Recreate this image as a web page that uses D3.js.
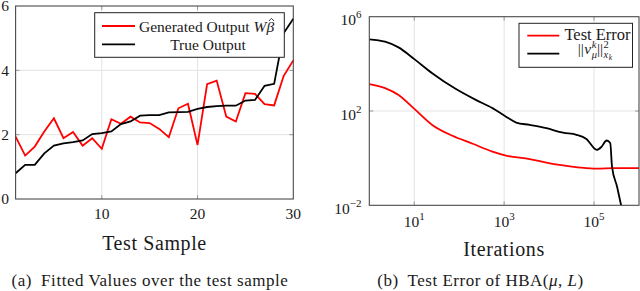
<!DOCTYPE html>
<html><head><meta charset="utf-8">
<script src="https://cdn.jsdelivr.net/npm/d3@7"></script>
<style>
body{margin:0;background:#fff}
svg{display:block}
text{font-family:"Liberation Serif","Times New Roman",serif;fill:#1a1a1a}
</style>
</head><body>
<svg id="c" width="640" height="291"></svg>
<script>
// ---------- data (left panel) ----------
const sampleIdx = [1,2,3,4,5,6,7,8,9,10,11,12,13,14,15,16,17,18,19,20,21,22,23,24,25,26,27,28,29,30];
const generatedOutput = [1.94,1.35,1.63,2.10,2.51,1.89,2.08,1.66,1.89,1.56,2.48,2.34,2.56,2.38,2.36,2.18,1.92,2.82,2.96,1.68,3.57,3.68,2.56,2.41,3.29,3.27,2.95,2.91,3.83,4.31];
const trueOutput = [0.80,1.06,1.06,1.42,1.66,1.73,1.77,1.82,2.02,2.05,2.10,2.33,2.41,2.59,2.61,2.61,2.69,2.70,2.71,2.80,2.86,2.89,2.90,2.90,3.06,3.08,3.52,3.58,5.16,5.60];
const leftXTicks = [10,20,30];
const leftYTicks = [0,2,4,6];
const leftGridX = [10,20];
const leftGridY = [2,4];

// ---------- data (right panel) ----------
const errIter = [1,2.24,4.47,10.2,25.1,70.8,200,550,1100,3700,8700,20400,49000,115000,275000,1000000];
const testError = [1380,933,479,120,25.7,8.9,4.07,1.9,1.29,0.91,0.65,0.49,0.40,0.36,0.38,0.38];
const normIter = [1,2.24,4.47,10.2,25.1,83,234,550,1100,1860,3700,8700,20400,40700,67600,115000,148000,190000,229000,251000,324000,398000,500000];
const normValue = [110000,87000,50000,15500,4000,870,295,132,57.5,32.4,25.7,18.6,12.0,9.8,6.5,2.24,3.1,5.6,4.4,0.44,0.063,0.0105,0.0016];
const rightXTicks = [10,1000,100000];
const rightXExp = ["1","3","5"];
const rightYTicks = [1e-2,1e2,1e6];
const rightYExp = ["\u22122","2","6"];

const svg = d3.select("#c");
const FRAME = "#4a4a4a", GRID = "#e3e3e3", TICK = "#9a9a9a";

// ================= LEFT PANEL =================
const xL = d3.scaleLinear().domain([1,30]).range([15.6,293.3]);
const yL = d3.scaleLinear().domain([0,6]).range([199,6]);
const gL = svg.append("g");
gL.selectAll(".gx").data(leftGridX).join("line")
  .attr("x1",d=>xL(d)).attr("x2",d=>xL(d)).attr("y1",yL(0)).attr("y2",yL(6))
  .attr("stroke",GRID).attr("stroke-width",1);
gL.selectAll(".gy").data(leftGridY).join("line")
  .attr("x1",xL(1)).attr("x2",xL(30)).attr("y1",d=>yL(d)).attr("y2",d=>yL(d))
  .attr("stroke",GRID).attr("stroke-width",1);
leftGridX.forEach(d=>{
  gL.append("line").attr("x1",xL(d)).attr("x2",xL(d)).attr("y1",yL(0)).attr("y2",yL(0)-4).attr("stroke",TICK);
  gL.append("line").attr("x1",xL(d)).attr("x2",xL(d)).attr("y1",yL(6)).attr("y2",yL(6)+4).attr("stroke",TICK);
});
leftGridY.forEach(d=>{
  gL.append("line").attr("x1",xL(1)).attr("x2",xL(1)+4).attr("y1",yL(d)).attr("y2",yL(d)).attr("stroke",TICK);
  gL.append("line").attr("x1",xL(30)).attr("x2",xL(30)-4).attr("y1",yL(d)).attr("y2",yL(d)).attr("stroke",TICK);
});
const lineL = d3.line().x((d,i)=>xL(sampleIdx[i])).y(d=>yL(d));
gL.append("path").datum(generatedOutput).attr("d",lineL).attr("fill","none")
  .attr("stroke","#ff0000").attr("stroke-width",1.8);
gL.append("path").datum(trueOutput).attr("d",lineL).attr("fill","none")
  .attr("stroke","#000").attr("stroke-width",1.8);
gL.append("rect").attr("x",xL(1)).attr("y",yL(6)).attr("width",xL(30)-xL(1)).attr("height",yL(0)-yL(6))
  .attr("fill","none").attr("stroke",FRAME).attr("stroke-width",1.1);
gL.selectAll(".xl").data(leftXTicks).join("text")
  .attr("x",d=>xL(d)).attr("y",219).attr("text-anchor","middle").attr("font-size",15.5).text(d=>d);
gL.selectAll(".yl").data(leftYTicks).join("text")
  .attr("x",9).attr("y",d=>yL(d)+5.3).attr("text-anchor","end").attr("font-size",15.5).text(d=>d);
gL.append("text").attr("x",154.5).attr("y",250).attr("text-anchor","middle").attr("font-size",20)
  .attr("letter-spacing",0.6).text("Test Sample");
// legend
const lgL = gL.append("g");
lgL.append("rect").attr("x",94.7).attr("y",12.7).attr("width",189.6).attr("height",44.6)
  .attr("fill","#fff").attr("stroke","#222").attr("stroke-width",1);
lgL.append("line").attr("x1",102).attr("x2",135).attr("y1",26).attr("y2",26).attr("stroke","#ff0000").attr("stroke-width",1.8);
lgL.append("line").attr("x1",102).attr("x2",135).attr("y1",44.3).attr("y2",44.3).attr("stroke","#000").attr("stroke-width",1.8);
const t1 = lgL.append("text").attr("x",139).attr("y",31.5).attr("font-size",15.5);
t1.append("tspan").text("Generated Output ");
t1.append("tspan").attr("font-style","italic").text("W");
const betaT = t1.append("tspan").attr("font-style","italic").text("\u03b2");
lgL.append("text").attr("x",208).attr("y",49.5).attr("text-anchor","middle").attr("font-size",15.5).text("True Output");
{
  const len = t1.node().getComputedTextLength();
  const bl = betaT.node().getComputedTextLength();
  const cx = 139 + len - bl/2 + 1.2;
  lgL.append("path").attr("d",`M${cx-2.6},21 L${cx},18.4 L${cx+2.6},21`)
    .attr("fill","none").attr("stroke","#1a1a1a").attr("stroke-width",0.9);
}
svg.append("text").attr("x",150).attr("y",285.7).attr("text-anchor","middle").attr("font-size",17)
  .attr("letter-spacing",0.55).text("(a)\u2002Fitted Values over the test sample");

// ================= RIGHT PANEL =================
const xR = d3.scaleLog().domain([1,1e6]).range([369.3,639]);
const yR = d3.scaleLog().domain([1e-2,1e6]).range([205.3,16.7]);
const gR = svg.append("g");
gR.selectAll(".gx").data(rightXTicks).join("line")
  .attr("x1",d=>xR(d)).attr("x2",d=>xR(d)).attr("y1",yR(1e-2)).attr("y2",yR(1e6))
  .attr("stroke",GRID).attr("stroke-width",1);
gR.append("line").attr("x1",xR(1)).attr("x2",xR(1e6)).attr("y1",yR(1e2)).attr("y2",yR(1e2))
  .attr("stroke",GRID).attr("stroke-width",1);
rightXTicks.forEach(d=>{
  gR.append("line").attr("x1",xR(d)).attr("x2",xR(d)).attr("y1",yR(1e-2)).attr("y2",yR(1e-2)-4).attr("stroke",TICK);
  gR.append("line").attr("x1",xR(d)).attr("x2",xR(d)).attr("y1",yR(1e6)).attr("y2",yR(1e6)+4).attr("stroke",TICK);
});
[1e2].forEach(d=>{
  gR.append("line").attr("x1",xR(1)).attr("x2",xR(1)+4).attr("y1",yR(d)).attr("y2",yR(d)).attr("stroke",TICK);
  gR.append("line").attr("x1",xR(1e6)).attr("x2",xR(1e6)-4).attr("y1",yR(d)).attr("y2",yR(d)).attr("stroke",TICK);
});
svg.append("defs").append("clipPath").attr("id","clipR").append("rect")
  .attr("x",xR(1)).attr("y",yR(1e6)).attr("width",xR(1e6)-xR(1)).attr("height",yR(1e-2)-yR(1e6));
const cR = gR.append("g").attr("clip-path","url(#clipR)");
const lineErr = d3.line().x((d,i)=>xR(errIter[i])).y(d=>yR(d)).curve(d3.curveMonotoneX);
const lineNorm = d3.line().x((d,i)=>xR(normIter[i])).y(d=>yR(d)).curve(d3.curveMonotoneX);
cR.append("path").datum(testError).attr("d",lineErr).attr("fill","none").attr("stroke","#ff0000").attr("stroke-width",1.8);
cR.append("path").datum(normValue).attr("d",lineNorm).attr("fill","none").attr("stroke","#000").attr("stroke-width",1.8);
gR.append("rect").attr("x",xR(1)).attr("y",yR(1e6)).attr("width",xR(1e6)-xR(1)).attr("height",yR(1e-2)-yR(1e6))
  .attr("fill","none").attr("stroke",FRAME).attr("stroke-width",1.1);
rightXTicks.forEach((d,i)=>{
  const t = gR.append("text").attr("x",xR(d)).attr("y",227).attr("text-anchor","middle").attr("font-size",15.5);
  t.append("tspan").text("10");
  t.append("tspan").attr("dy",-7).attr("font-size",11).text(rightXExp[i]);
});
rightYTicks.forEach((d,i)=>{
  const t = gR.append("text").attr("x",361.5).attr("y",yR(d)+8.5).attr("text-anchor","end").attr("font-size",15.5);
  t.append("tspan").text("10");
  t.append("tspan").attr("dy",-7).attr("font-size",11).text(rightYExp[i]);
});
gR.append("text").attr("x",504).attr("y",256).attr("text-anchor","middle").attr("font-size",20)
  .attr("letter-spacing",0.6).text("Iterations");
// legend
const lgR = gR.append("g");
lgR.append("rect").attr("x",519).attr("y",23.3).attr("width",113.5).attr("height",44)
  .attr("fill","#fff").attr("stroke","#222").attr("stroke-width",1);
lgR.append("line").attr("x1",527.3).attr("x2",559.3).attr("y1",35.7).attr("y2",35.7).attr("stroke","#ff0000").attr("stroke-width",1.8);
lgR.append("line").attr("x1",527.3).attr("x2",559.3).attr("y1",53.7).attr("y2",53.7).attr("stroke","#000").attr("stroke-width",1.8);
lgR.append("text").attr("x",597.5).attr("y",40).attr("text-anchor","middle").attr("font-size",16.5).text("Test Error");
{
  const g = lgR.append("g");
  const base = 54;
  const pieces = [
    {t:"||", fs:15.5, dy:0, it:false},
    {t:"v", fs:15.5, dy:0, it:true},
    {t:"k", fs:10.5, dy:-6.5, it:true, stack:true},
    {t:"\u03bc", fs:10.5, dy:3.8, it:true, under:true},
    {t:"||", fs:15.5, dy:0, it:false},
    {t:"2", fs:10.5, dy:-6.5, it:false, stack:true},
    {t:"x", fs:10.5, dy:3.8, it:true, under:true},
    {t:"k", fs:7.5, dy:5.5, it:true, subsub:true}
  ];
  let x = 0, stackX = 0, stackW = 0;
  pieces.forEach(p=>{
    const px = p.under ? stackX : x;
    const t = g.append("text").attr("x",px).attr("y",base+p.dy).attr("font-size",p.fs)
      .attr("font-style",p.it?"italic":"normal").text(p.t);
    const w = t.node().getComputedTextLength();
    if (p.stack){ stackX = px; stackW = w; x = px + w; }
    else if (p.under){ x = Math.max(stackX+stackW, px+w); }
    else { x = px + w + (p.t==="v"?0.6:0.3); }
  });
  g.attr("transform",`translate(${595 - x/2},0)`);
}
svg.append("text").attr("x",480.5).attr("y",285.7).attr("text-anchor","middle").attr("font-size",17)
  .attr("letter-spacing",0.5)
  .html('(b)\u2002Test Error of HBA(<tspan font-style="italic">\u03bc</tspan>, <tspan font-style="italic">L</tspan>)');
</script>
</body></html>
